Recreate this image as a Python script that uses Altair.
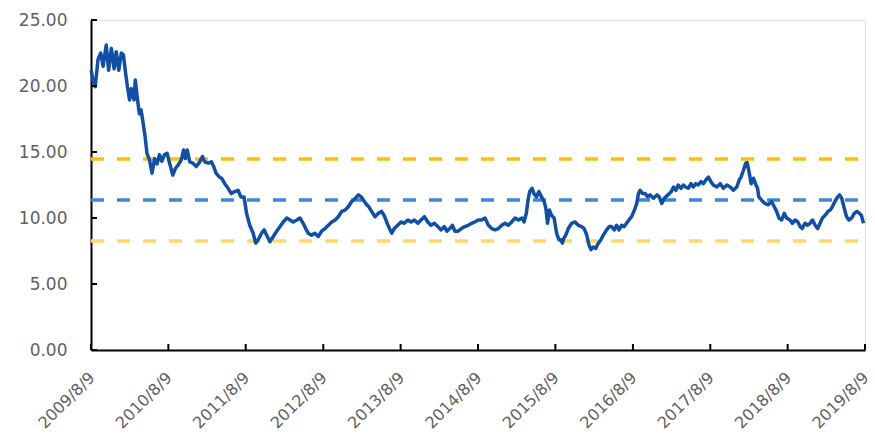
import altair as alt
import pandas as pd

# Daily valuation series (sampled), 2009-08 .. 2019-08
dates = [
    "2009-08-10", "2009-08-18", "2009-08-29", "2009-09-11", "2009-09-24", "2009-10-05",
    "2009-10-20", "2009-10-31", "2009-11-13", "2009-11-26", "2009-12-06", "2009-12-18",
    "2009-12-30", "2010-01-09", "2010-01-19", "2010-01-28", "2010-02-07", "2010-02-16",
    "2010-02-28", "2010-03-06", "2010-03-14", "2010-03-25", "2010-04-02", "2010-04-10",
    "2010-04-21", "2010-04-30", "2010-05-12", "2010-05-24", "2010-06-05", "2010-06-17",
    "2010-06-28", "2010-07-09", "2010-07-22", "2010-08-03", "2010-08-15", "2010-08-30",
    "2010-09-11", "2010-09-24", "2010-10-09", "2010-10-20", "2010-10-28", "2010-11-06",
    "2010-11-18", "2010-12-03", "2010-12-19", "2011-01-04", "2011-01-17", "2011-01-28",
    "2011-02-13", "2011-02-28", "2011-03-11", "2011-03-22", "2011-04-07", "2011-04-18",
    "2011-05-02", "2011-05-18", "2011-06-02", "2011-06-18", "2011-07-04", "2011-07-17",
    "2011-08-01", "2011-08-13", "2011-08-28", "2011-09-13", "2011-09-25", "2011-10-07",
    "2011-10-23", "2011-11-04", "2011-11-16", "2011-12-01", "2011-12-17", "2012-01-02",
    "2012-01-18", "2012-02-02", "2012-02-19", "2012-03-05", "2012-03-20", "2012-04-06",
    "2012-04-21", "2012-05-06", "2012-05-18", "2012-05-30", "2012-06-15", "2012-06-30",
    "2012-07-16", "2012-08-01", "2012-08-17", "2012-09-02", "2012-09-18", "2012-10-04",
    "2012-10-19", "2012-11-04", "2012-11-20", "2012-12-05", "2012-12-21", "2013-01-07",
    "2013-01-22", "2013-02-04", "2013-02-15", "2013-03-02", "2013-03-12", "2013-03-25",
    "2013-04-10", "2013-04-25", "2013-05-11", "2013-05-23", "2013-06-04", "2013-06-20",
    "2013-06-28", "2013-07-10", "2013-07-26", "2013-08-11", "2013-08-26", "2013-09-12",
    "2013-09-27", "2013-10-13", "2013-10-29", "2013-11-13", "2013-11-29", "2013-12-15",
    "2013-12-30", "2014-01-15", "2014-01-31", "2014-02-16", "2014-03-03", "2014-03-15",
    "2014-03-29", "2014-04-10", "2014-04-22", "2014-05-07", "2014-05-23", "2014-06-08",
    "2014-06-24", "2014-07-10", "2014-07-25", "2014-08-10", "2014-08-26", "2014-09-11",
    "2014-09-27", "2014-10-13", "2014-10-28", "2014-11-13", "2014-11-29", "2014-12-15",
    "2014-12-30", "2015-01-15", "2015-01-31", "2015-02-16", "2015-03-04", "2015-03-14",
    "2015-03-25", "2015-04-02", "2015-04-10", "2015-04-21", "2015-04-30", "2015-05-12",
    "2015-05-23", "2015-06-05", "2015-06-17", "2015-06-25", "2015-07-03", "2015-07-12",
    "2015-07-22", "2015-08-03", "2015-08-15", "2015-08-26", "2015-09-04", "2015-09-11",
    "2015-09-18", "2015-09-27", "2015-10-09", "2015-10-25", "2015-11-10", "2015-11-25",
    "2015-12-11", "2015-12-23", "2016-01-04", "2016-01-15", "2016-01-24", "2016-02-04",
    "2016-02-16", "2016-02-28", "2016-03-11", "2016-03-22", "2016-04-07", "2016-04-19",
    "2016-04-30", "2016-05-13", "2016-05-24", "2016-06-04", "2016-06-17", "2016-06-29",
    "2016-07-10", "2016-07-21", "2016-08-03", "2016-08-16", "2016-08-27", "2016-09-04",
    "2016-09-12", "2016-09-23", "2016-10-06", "2016-10-18", "2016-10-29", "2016-11-14",
    "2016-11-30", "2016-12-11", "2016-12-23", "2017-01-04", "2017-01-21", "2017-02-06",
    "2017-02-17", "2017-02-28", "2017-03-11", "2017-03-24", "2017-04-04", "2017-04-15",
    "2017-04-27", "2017-05-10", "2017-05-21", "2017-06-01", "2017-06-13", "2017-06-26",
    "2017-07-07", "2017-07-20", "2017-07-31", "2017-08-12", "2017-08-23", "2017-09-09",
    "2017-09-25", "2017-10-10", "2017-10-26", "2017-11-11", "2017-11-26", "2017-12-12",
    "2017-12-24", "2018-01-01", "2018-01-12", "2018-01-23", "2018-01-30", "2018-02-09",
    "2018-02-18", "2018-03-01", "2018-03-10", "2018-03-20", "2018-03-26", "2018-04-08",
    "2018-04-24", "2018-05-09", "2018-05-25", "2018-06-07", "2018-06-18", "2018-06-29",
    "2018-07-12", "2018-07-24", "2018-08-04", "2018-08-20", "2018-08-31", "2018-09-13",
    "2018-09-26", "2018-10-07", "2018-10-17", "2018-10-30", "2018-11-12", "2018-11-23",
    "2018-12-04", "2018-12-17", "2018-12-29", "2019-01-09", "2019-01-20", "2019-02-02",
    "2019-02-15", "2019-02-26", "2019-03-08", "2019-03-20", "2019-04-02", "2019-04-11",
    "2019-04-21", "2019-05-03", "2019-05-14", "2019-05-25", "2019-06-07", "2019-06-19",
    "2019-07-02", "2019-07-14", "2019-07-23", "2019-08-02",
]

values = [
    21.2, 20.45, 19.95, 22.0, 22.5, 21.5,
    23.1, 21.2, 22.85, 21.3, 22.6, 21.2,
    22.5, 22.35, 21.0, 19.95, 18.95, 19.8,
    18.95, 20.45, 19.3, 17.9, 18.2, 17.4,
    16.2, 14.9, 14.4, 13.4, 14.5, 14.1,
    14.8, 14.3, 14.8, 14.9, 14.15, 13.25,
    13.75, 14.0, 14.4, 15.15, 14.5, 15.15,
    14.25, 14.15, 13.9, 14.25, 14.65, 14.25,
    14.15, 14.25, 13.9, 13.4, 13.1, 13.0,
    12.6, 12.25, 11.85, 12.0, 12.1, 11.6,
    11.6, 10.35, 9.45, 8.85, 8.1, 8.35,
    8.85, 9.1, 8.7, 8.2, 8.6, 9.0,
    9.35, 9.7, 10.0, 9.85, 9.7, 9.85,
    10.0, 9.6, 9.2, 8.85, 8.7, 8.85,
    8.6, 9.0, 9.2, 9.45, 9.7, 9.85,
    10.1, 10.5, 10.6, 10.85, 11.25, 11.5,
    11.75, 11.6, 11.35, 11.0, 10.85, 10.5,
    10.1, 10.35, 10.5, 10.2, 9.7, 9.1,
    8.85, 9.2, 9.45, 9.7, 9.6, 9.85,
    9.7, 9.85, 9.6, 9.85, 10.1, 9.7,
    9.45, 9.6, 9.35, 9.1, 9.35, 9.0,
    9.2, 9.45, 9.0, 9.0, 9.2, 9.35,
    9.45, 9.6, 9.7, 9.85, 9.85, 10.0,
    9.45, 9.2, 9.1, 9.2, 9.45, 9.6,
    9.45, 9.7, 10.0, 9.85, 10.0, 9.7,
    10.35, 11.35, 12.0, 12.25, 11.85, 11.6,
    12.0, 11.6, 11.25, 10.75, 9.6, 10.6,
    10.2, 10.0, 8.85, 8.35, 8.35, 8.1,
    8.45, 8.7, 9.2, 9.6, 9.7, 9.45,
    9.35, 9.2, 8.7, 7.95, 7.6, 7.8,
    7.7, 8.1, 8.35, 8.7, 9.1, 9.35,
    9.35, 9.1, 9.45, 9.1, 9.45, 9.35,
    9.6, 9.85, 10.1, 10.6, 11.1, 11.85,
    12.1, 11.85, 11.85, 11.6, 11.75, 11.5,
    11.75, 11.6, 11.1, 11.5, 11.75, 12.0,
    12.35, 12.1, 12.5, 12.25, 12.5, 12.35,
    12.25, 12.6, 12.35, 12.6, 12.5, 12.75,
    12.6, 12.9, 13.1, 12.75, 12.5, 12.35,
    12.6, 12.25, 12.5, 12.35, 12.1, 12.35,
    12.9, 13.1, 13.6, 14.15, 14.2, 13.4,
    12.6, 13.0, 12.6, 12.25, 11.6, 11.35,
    11.1, 11.0, 11.25, 10.85, 10.5, 10.0,
    9.85, 10.35, 10.0, 9.85, 9.6, 9.85,
    9.7, 9.35, 9.2, 9.6, 9.45, 9.6,
    9.85, 9.45, 9.2, 9.6, 10.0, 10.2,
    10.5, 10.6, 10.85, 11.25, 11.6, 11.75,
    11.5, 10.75, 10.1, 9.85, 10.0, 10.35,
    10.5, 10.35, 10.2, 9.6,
]

# Reference levels: upper band, mean, lower band
level_values = [14.47, 11.36, 8.26]
level_names = ["upper", "mean", "lower"]
level_colors = ["#FFC000", "#3F87D6", "#FFD966"]

# Axis ticks
x_ticks = ["2009-08-09", "2010-08-09", "2011-08-09", "2012-08-09", "2013-08-09",
           "2014-08-09", "2015-08-09", "2016-08-09", "2017-08-09", "2018-08-09",
           "2019-08-09"]
y_ticks = [0, 5, 10, 15, 20, 25]

W, H = 774, 330
LABEL_FONT = "DejaVu Sans"
LABEL_COLOR = "#5f5f5f"

series = pd.DataFrame({"date": dates, "value": values})
levels = pd.DataFrame({"name": level_names, "value": level_values})
xt = pd.DataFrame({"date": x_ticks})
yt = pd.DataFrame({"value": y_ticks})

x_scale = alt.Scale(type="utc", domain=[alt.DateTime(year=2009, month=8, date=9, utc=True),
                                       alt.DateTime(year=2019, month=8, date=9, utc=True)])
y_scale = alt.Scale(domain=[0, 25], nice=False)

x_axis = alt.Axis(
    values=[alt.DateTime(year=int(d[:4]), month=8, date=9, utc=True) for d in x_ticks],
    format="%Y/%-m/%-d", labelAngle=315, labelFontSize=16, labelFont=LABEL_FONT,
    labelColor=LABEL_COLOR, labelPadding=19, labelOffset=-5, ticks=False,
    domainColor="#000000", domainWidth=2, grid=False, title=None, labelFlush=False,
    labelOverlap=False,
)
y_axis = alt.Axis(
    values=y_ticks, format=".2f", labelFontSize=17, labelFont=LABEL_FONT,
    labelColor=LABEL_COLOR, labelPadding=24, ticks=False, domainColor="#000000",
    domainWidth=2, grid=False, title=None,
)

line = alt.Chart(series).mark_line(color="#0F4FA8", strokeWidth=3.5, strokeJoin="round").encode(
    x=alt.X("date:T", scale=x_scale, axis=x_axis),
    y=alt.Y("value:Q", scale=y_scale, axis=y_axis),
)

bands = alt.Chart(levels).mark_rule(strokeWidth=3.5, strokeDash=[13, 13], strokeCap="butt").encode(
    y=alt.Y("value:Q", scale=y_scale),
    x=alt.value(0), x2=alt.value(W),
    color=alt.Color("name:N", scale=alt.Scale(domain=level_names, range=level_colors), legend=None),
)

# Inward-facing tick marks
x_tick_marks = alt.Chart(xt).mark_rule(color="#000000", strokeWidth=2).encode(
    x=alt.X("date:T", scale=x_scale), y=alt.value(H - 6), y2=alt.value(H),
)
y_tick_marks = alt.Chart(yt).mark_rule(color="#000000", strokeWidth=2).encode(
    y=alt.Y("value:Q", scale=y_scale), x=alt.value(0), x2=alt.value(6),
)

chart = alt.layer(bands, line, x_tick_marks, y_tick_marks).properties(
    width=W, height=H,
    autosize=alt.AutoSizeParams(type="none"),
    padding={"left": 91, "top": 20, "right": 10, "bottom": 89},
).configure_view(stroke=None).configure(background="white")

chart.save("out.html", embed_options={"renderer": "svg", "actions": False})
